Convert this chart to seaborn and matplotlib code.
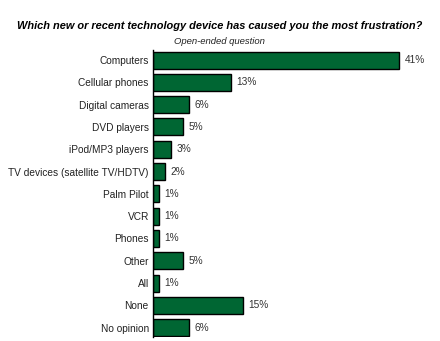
import matplotlib
matplotlib.use("Agg")
import matplotlib.pyplot as plt
import seaborn as sns
import pandas as pd

categories = ["Computers", "Cellular phones", "Digital cameras", "DVD players",
              "iPod/MP3 players", "TV devices (satellite TV/HDTV)", "Palm Pilot",
              "VCR", "Phones", "Other", "All", "None", "No opinion"]
values = [41, 13, 6, 5, 3, 2, 1, 1, 1, 5, 1, 15, 6]
value_labels = [f"{v}%" for v in values]

sns.set_style("white")
plt.rcParams['font.family'] = ['Liberation Sans', 'DejaVu Sans']

df = pd.DataFrame({"category": categories, "value": values})

W, H = 440, 341
fig = plt.figure(figsize=(W / 100, H / 100), dpi=100)
ax = fig.add_axes([153 / W, 1 - 337 / H, (W - 153) / W, (337 - 50) / H])

sns.barplot(data=df, y="category", x="value", orient="h", color="#006633",
            edgecolor="black", linewidth=1.0, width=0.76, saturation=1, ax=ax)

ax.set_xlim(0, (W - 153) / 6.0)
ax.set_ylim(12.42, -0.45)
ax.set_xlabel("")
ax.set_ylabel("")
ax.set_xticks([])
ax.tick_params(axis="y", length=0, pad=3, labelsize=7.3, labelcolor="#222222")
for s in ["top", "right", "bottom"]:
    ax.spines[s].set_visible(False)
ax.spines["left"].set_color("black")
ax.spines["left"].set_linewidth(1.0)

for i, (v, lab) in enumerate(zip(values, value_labels)):
    ax.annotate(lab, xy=(v, i), xytext=(4, 0), textcoords="offset points",
                va="center", ha="left", fontsize=7.3, color="#333333")

fig.text(0.5, 1 - 26 / H, "Which new or recent technology device has caused you the most frustration?",
         ha="center", va="center", fontsize=7.9, fontweight="bold", fontstyle="italic",
         color="black")
fig.text(219 / W, 1 - 41 / H, "Open-ended question", ha="center", va="center",
         fontsize=6.8, fontstyle="italic", color="#222222")

fig.savefig("out.png", dpi=100)
